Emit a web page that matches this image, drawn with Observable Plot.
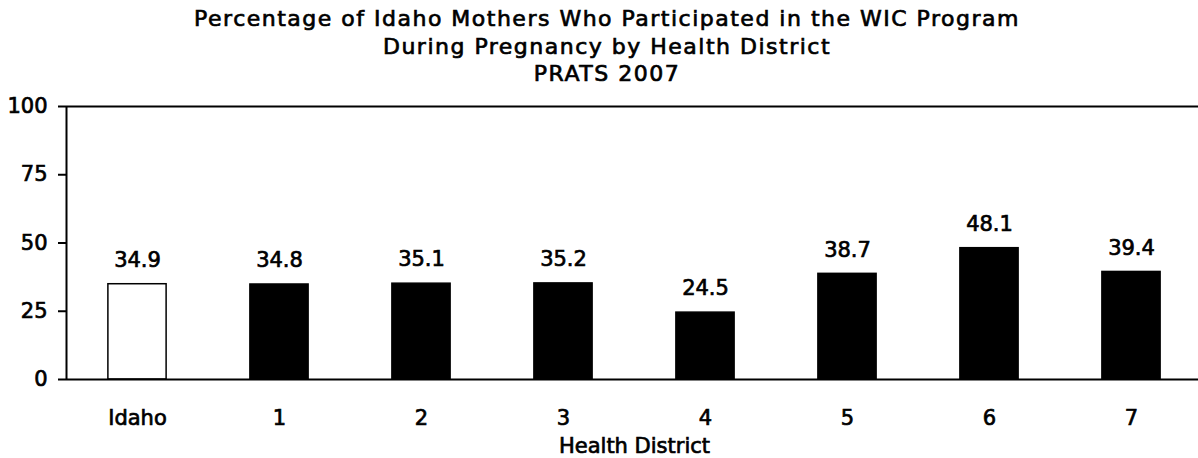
<!DOCTYPE html>
<html>
<head>
<meta charset="utf-8">
<script src="https://cdn.jsdelivr.net/npm/d3@7"></script>
<script src="https://cdn.jsdelivr.net/npm/@observablehq/plot@0.6"></script>
<style>
  html, body { margin: 0; padding: 0; background: #fff; }
  #wrap { position: relative; width: 1198px; height: 458px; overflow: hidden; }
  #title { position: absolute; left: 0; top: 5px; width: 1214px; text-align: center;
    font-family: "DejaVu Sans", sans-serif; font-weight: normal; font-size: 22px; line-height: 27.5px;
    letter-spacing: 1.5px; color: #000; -webkit-text-stroke: 0.7px #000; }
  #chart { position: absolute; left: 0; top: 0; }
  #chart svg text { stroke: #000; stroke-width: 0.7px; }
</style>
</head>
<body>
<div id="wrap">
  <div id="chart"></div>
  <div id="title">Percentage of Idaho Mothers Who Participated in the WIC Program<br>During Pregnancy by Health District<br>PRATS 2007</div>
</div>
<script>
const categories = ["Idaho", "1", "2", "3", "4", "5", "6", "7"];
const values = [34.9, 34.8, 35.1, 35.2, 24.5, 38.7, 48.1, 39.4];
const yTicks = [0, 25, 50, 75, 100];
const xLabel = "Health District";

const data = categories.map((c, i) => ({cat: c, i, value: values[i], state: i === 0}));
const half = 0.205;
const font = '"DejaVu Sans", sans-serif';

const chart = Plot.plot({
  width: 1198,
  height: 458,
  marginLeft: 66,
  marginRight: 0,
  marginTop: 0,
  marginBottom: 0,
  style: {fontFamily: font, fontSize: "21px", color: "#000", background: "#fff", overflow: "visible"},
  x: {domain: [0, 8], range: [66, 1202], axis: null},
  y: {domain: [0, 100], range: [379, 106], axis: null},
  marks: [
    Plot.rectY(data, {x1: d => d.i + 0.5 - half, x2: d => d.i + 0.5 + half, y: "value",
      fill: d => d.state ? "#fff" : "#000", stroke: "#000", strokeWidth: 1.5}),
    Plot.ruleY([0, 100], {x1: 0, x2: 8, stroke: "#000", strokeWidth: 2}),
    Plot.ruleX([0], {y1: 0, y2: 100, stroke: "#000", strokeWidth: 2}),
    Plot.axisY({ticks: yTicks, tickSize: 8, tickPadding: 11, tickFormat: d => d, fontSize: 21, strokeWidth: 2, anchor: "left", label: null}),
    Plot.axisX({ticks: d3.range(0, 9), tickSize: 8, tickFormat: () => "", strokeWidth: 2, anchor: "bottom", label: null}),
    Plot.text(data, {x: d => d.i + 0.5, y: 0, text: "cat", dy: 39, fontSize: 21}),
    Plot.text([xLabel], {x: 4, y: 0, text: d => d, dy: 67, fontSize: 21}),
    Plot.text(data, {x: d => d.i + 0.5, y: "value", text: d => d.value.toFixed(1), dy: -24, fontSize: 21})
  ]
});
document.getElementById("chart").appendChild(chart);
</script>
</body>
</html>
